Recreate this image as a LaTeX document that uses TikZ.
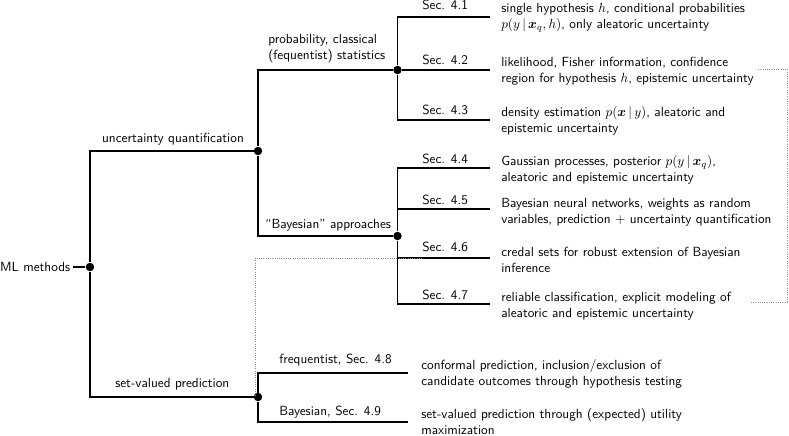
\documentclass[tikz,border=0pt]{standalone}
\usepackage{amsmath}
\begin{document}
\begin{tikzpicture}[x=0.755pt,y=-0.755pt,font=\sffamily,
  line/.style={line width=1pt},
  dot/.style={circle,fill,inner sep=0pt,minimum size=6.4pt},
  link/.style={black!45,densely dotted,line width=0.7pt},
  lab/.style={inner sep=0pt,anchor=base west},
  desc/.style={inner sep=0pt,anchor=west,align=left}]
\useasboundingbox (0,0) rectangle (789,436);

% root and junctions
\node[inner sep=0pt,inner xsep=1.5pt,anchor=east] (ml) at (72.5,267) {ML methods};
\node[dot] (root) at (90,267) {};
\node[dot] (uq) at (258,151) {};
\node[dot] (sv) at (258,397) {};
\node[dot] (pc) at (397.5,70) {};
\node[dot] (by) at (397.5,236) {};

% free ends of the branches
\coordinate (e41) at (490,17);
\coordinate (e42) at (490,70);
\coordinate (e43) at (490,120);
\coordinate (e44) at (490,168);
\coordinate (e45) at (490,209);
\coordinate (e46) at (490,258);
\coordinate (e47) at (490,304);
\coordinate (e48) at (408,373);
\coordinate (e49) at (408,422);

% tree lines
\draw[line] (ml) -- (root);
\draw[line] (uq) -| (root) |- (sv);
\draw[line] (pc) -| (uq) |- (by);
\draw[line] (e41) -| (pc) |- (e43);
\draw[line] (pc) -- (e42);
\draw[line] (e44) -| (by) |- (e47);
\draw[line] (e45) -| (by);
\draw[line] (e46) -| (by);
\draw[line] (e48) -| (sv) |- (e49);

% branch labels
\node[inner sep=0pt,anchor=base] (luq) at (173,142.7) {uncertainty quantification};
\node[desc] (lpc) at (268,49) {probability, classical\\(fequentist) statistics};
\node[lab] (lby) at (265,228) {``Bayesian'' approaches};
\node[lab] (lsv) at (115,387) {set-valued prediction};
\node[lab] (l48) at (279,363.3) {frequentist, Sec. 4.8};
\node[lab] (l49) at (279,415) {Bayesian, Sec. 4.9};

% section labels
\node[lab] (s41) at (422,9.5) {Sec. 4.1};
\node[lab] (s42) at (422,65) {Sec. 4.2};
\node[lab] (s43) at (422,115) {Sec. 4.3};
\node[lab] (s44) at (422,163) {Sec. 4.4};
\node[lab] (s45) at (422,204) {Sec. 4.5};
\node[lab] (s46) at (422,251.7) {Sec. 4.6};
\node[lab] (s47) at (422,299) {Sec. 4.7};

% descriptions
\node[desc] (d41) at (501,17.5) {single hypothesis $h$, conditional probabilities\\$p(y\,|\,\boldsymbol{x}_q,h)$, only aleatoric uncertainty};
\node[desc] (d42) at (501,71) {likelihood, Fisher information, confidence\\region for hypothesis $h$, epistemic uncertainty};
\node[desc] (d43) at (501,121) {density estimation $p(\boldsymbol{x}\,|\,y)$, aleatoric and\\epistemic uncertainty};
\node[desc] (d44) at (501,170) {Gaussian processes, posterior $p(y\,|\,\boldsymbol{x}_q)$,\\aleatoric and epistemic uncertainty};
\node[desc] (d45) at (501,212) {Bayesian neural networks, weights as random\\variables, prediction $+$ uncertainty quantification};
\node[desc] (d46) at (501,260) {credal sets for robust extension of Bayesian\\inference};
\node[desc] (d47) at (501,306) {reliable classification, explicit modeling of\\aleatoric and epistemic uncertainty};
\node[desc] (d48) at (421,374) {conformal prediction, inclusion/exclusion of\\candidate outcomes through hypothesis testing};
\node[desc] (d49) at (421,421.5) {set-valued prediction through (expected) utility\\maximization};

% dotted cross-links
\coordinate (k42) at (758,69);
\coordinate (k47) at (750,302);
\coordinate (kc) at (787,0);
\draw[link] (k42) -- (k42 -| kc) -- (k47 -| kc) -- (k47);
\coordinate (l46) at (422,258);
\coordinate (lsvc) at (255.5,397);
\draw[link] (l46) -| (lsvc);
\end{tikzpicture}
\end{document}
